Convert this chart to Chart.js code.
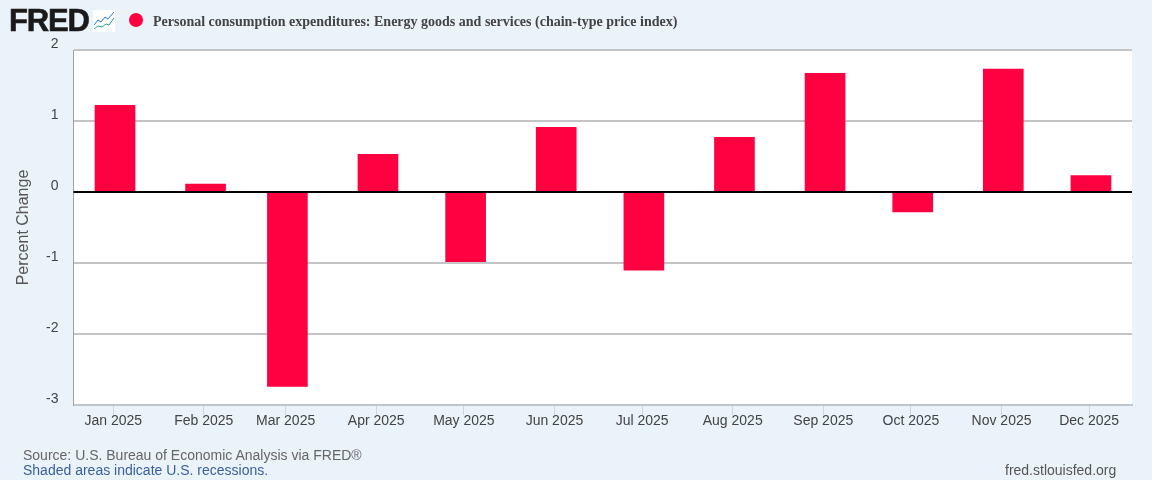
<!DOCTYPE html>
<html>
<head>
<meta charset="utf-8">
<title>FRED</title>
<script src="https://cdn.jsdelivr.net/npm/chart.js@4"></script>
<style>
html, body { margin: 0; padding: 0; background: #eaf2fa; }
#wrap { position: relative; width: 1152px; height: 480px; overflow: hidden; }
canvas { position: absolute; left: 0; top: 0; }
.txt { position: absolute; white-space: nowrap; font-family: "Liberation Sans", Arial, sans-serif; }
#logo { left: 9px; top: 1px; font-size: 31px; line-height: 40px; font-weight: bold; color: #1a1a1a; letter-spacing: -1.2px; -webkit-text-stroke: 0.6px #1a1a1a; }
#icon { position: absolute; left: 93px; top: 10px; }
#dot { position: absolute; left: 129px; top: 13px; width: 14px; height: 14px; border-radius: 7px; background: #ff0040; }
#title { left: 153px; top: 14px; font-family: "Liberation Serif", serif; font-weight: bold; font-size: 14px; line-height: 16px; color: #444; }
#source { left: 23px; top: 447px; font-size: 14px; line-height: 16px; color: #666; }
#shaded { left: 23px; top: 462px; font-size: 14px; line-height: 16px; color: #3a5f9e; }
#site { left: 1005px; top: 462px; font-size: 14px; line-height: 16px; color: #555; }
</style>
</head>
<body>
<div id="wrap">
<canvas id="chart" width="1152" height="480"></canvas>
<div class="txt" id="logo">FRED</div>
<svg id="icon" width="22" height="22" viewBox="0 0 22 22">
<rect x="0" y="0" width="22" height="22" fill="#fff"/>
<polyline points="1,15 5,10 8,12 12,7 15,9 21,2" fill="none" stroke="#2b7bd6" stroke-width="1"/>
<polyline points="1,19 5,16 9,17 13,14 16,15 21,8" fill="none" stroke="#2a9d8f" stroke-width="1"/>
</svg>
<div id="dot"></div>
<div class="txt" id="title">Personal consumption expenditures: Energy goods and services (chain-type price index)</div>
<div class="txt" id="source">Source: U.S. Bureau of Economic Analysis via FRED®</div>
<div class="txt" id="shaded">Shaded areas indicate U.S. recessions.</div>
<div class="txt" id="site">fred.stlouisfed.org</div>
</div>
<script>
const months = ['Jan 2025', 'Feb 2025', 'Mar 2025', 'Apr 2025', 'May 2025', 'Jun 2025', 'Jul 2025', 'Aug 2025', 'Sep 2025', 'Oct 2025', 'Nov 2025', 'Dec 2025'];
// day of year for the first of each month, used as the x position
const monthDays = [0, 31, 59, 90, 120, 151, 181, 212, 243, 273, 304, 334];
const pctChange = [1.22, 0.11, -2.74, 0.53, -0.98, 0.91, -1.10, 0.77, 1.67, -0.28, 1.73, 0.23];
const yTicks = [2, 1, 0, -1, -2, -3];

const barColor = '#ff0040';
// ticks sit a little left of the bar centres in the original
const tickShift = 0.6;

// white plot area behind everything
const plotBg = {
    id: 'plotBg',
    beforeDraw(chart) {
        const { ctx, chartArea } = chart;
        ctx.save();
        ctx.fillStyle = '#fff';
        ctx.fillRect(chartArea.left, chartArea.top, chartArea.width, chartArea.height);
        ctx.restore();
    }
};

// zero line sits on top of the bars
const zeroLine = {
    id: 'zeroLine',
    afterDatasetsDraw(chart) {
        const { ctx, chartArea, scales } = chart;
        const y = scales.y.getPixelForValue(0);
        ctx.save();
        ctx.strokeStyle = '#000';
        ctx.lineWidth = 2;
        ctx.beginPath();
        ctx.moveTo(chartArea.left, y);
        ctx.lineTo(chartArea.right, y);
        ctx.stroke();
        ctx.restore();
    }
};

new Chart(document.getElementById('chart').getContext('2d'), {
    type: 'bar',
    data: {
        datasets: [{
            label: 'Personal consumption expenditures: Energy goods and services (chain-type price index)',
            data: monthDays.map((d, i) => ({ x: d, y: pctChange[i] })),
            backgroundColor: barColor,
            borderWidth: 0,
            barThickness: 40
        }]
    },
    plugins: [plotBg, zeroLine],
    options: {
        responsive: false,
        animation: false,
        layout: { padding: { top: 50, right: 20, left: 0, bottom: 0 } },
        plugins: { legend: { display: false }, tooltip: { enabled: false } },
        scales: {
            x: {
                type: 'linear',
                offset: false,
                min: -14.2,
                max: 348.05,
                afterBuildTicks(scale) { scale.ticks = monthDays.map(v => ({ value: v - tickShift })); },
                afterFit(scale) { scale.height = 75; },
                grid: { offset: false, drawOnChartArea: false, drawTicks: true, tickLength: 10, tickColor: '#c8d6e6', tickWidth: 1 },
                border: { color: '#c0c4cc', width: 2 },
                ticks: {
                    autoSkip: false,
                    maxRotation: 0,
                    padding: -2,
                    color: '#444',
                    font: { family: '"Liberation Sans", Arial, sans-serif', size: 14 },
                    callback(value, index) { return months[index]; }
                }
            },
            y: {
                min: -3,
                max: 2,
                afterBuildTicks(scale) { scale.ticks = yTicks.map(v => ({ value: v })); },
                afterFit(scale) { scale.width = 73.5; },
                grid: { color: '#c4c4c4', lineWidth: 2, drawTicks: false },
                border: { color: '#a0a0a0', width: 1 },
                title: {
                    display: true,
                    text: 'Percent Change',
                    color: '#555',
                    padding: { top: 14, bottom: 0 },
                    font: { family: '"Liberation Sans", Arial, sans-serif', size: 16 }
                },
                ticks: {
                    autoSkip: false,
                    padding: 15,
                    labelOffset: -6,
                    color: '#444',
                    font: { family: '"Liberation Sans", Arial, sans-serif', size: 14 },
                    callback(value) { return String(value); }
                }
            }
        }
    }
});
</script>
</body>
</html>
